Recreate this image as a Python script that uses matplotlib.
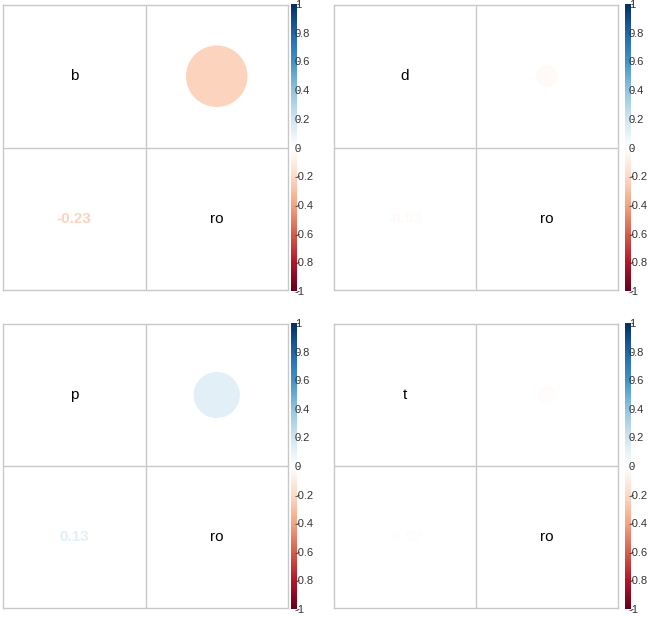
import matplotlib
matplotlib.use("Agg")
import matplotlib.pyplot as plt
from matplotlib.colors import LinearSegmentedColormap, Normalize
from matplotlib.patches import Circle
import numpy as np

plt.rcParams["font.family"] = ["Liberation Sans", "DejaVu Sans"]

# one small correlation matrix per panel: variable vs "ro"
var_names = ["b", "d", "p", "t"]
other_name = "ro"
corr_values = [-0.23, -0.03, 0.13, -0.02]
cbar_ticks = [1, 0.8, 0.6, 0.4, 0.2, 0, -0.2, -0.4, -0.6, -0.8, -1]

# corrplot RdBu palette
cmap = LinearSegmentedColormap.from_list("corrRdBu", [
    "#67001F", "#B2182B", "#D6604D", "#F4A582", "#FDDBC7", "#FFFFFF",
    "#D1E5F0", "#92C5DE", "#4393C6", "#2166AC", "#053061"], N=200)
norm = Normalize(-1, 1)

W, H = 649, 617
fig = plt.figure(figsize=(W / 100, H / 100), dpi=100)

# pixel boxes (left, top, right, bottom) for each panel grid and its colorbar
panel_px = [(3, 5, 288, 290), (334, 5, 618, 290), (3, 324, 288, 608), (334, 324, 618, 608)]
cbar_px = [(291, 4, 297, 291), (625, 4, 631, 291), (291, 323, 297, 609), (625, 323, 631, 609)]


def to_fig(box):
    l, t, r, b = box
    return [l / W, 1 - b / H, (r - l) / W, (b - t) / H]


grid_col = "#c8c8c8"
for i, name in enumerate(var_names):
    r = corr_values[i]
    col = cmap(norm(r))
    ax = fig.add_axes(to_fig(panel_px[i]))
    ax.set_xlim(0, 2)
    ax.set_ylim(0, 2)
    ax.set_xticks([])
    ax.set_yticks([])
    for s in ax.spines.values():
        s.set_color(grid_col)
        s.set_linewidth(1)
    ax.axhline(1, color=grid_col, lw=1)
    ax.axvline(1, color=grid_col, lw=1)

    # diagonal labels
    ax.text(0.5, 1.5, name, ha="center", va="center", fontsize=11, color="black")
    ax.text(1.5, 0.5, other_name, ha="center", va="center", fontsize=11, color="black")
    # upper: circle, area ~ |r|
    ax.add_patch(Circle((1.5, 1.5), 0.45 * np.sqrt(abs(r)), facecolor=col, edgecolor="none"))
    # lower: number
    ax.text(0.5, 0.5, f"{r:.2f}", ha="center", va="center", fontsize=11,
            fontweight="bold", color=col)

    # colorbar
    cax = fig.add_axes(to_fig(cbar_px[i]))
    grad = np.linspace(-1, 1, 200).reshape(-1, 1)
    cax.imshow(grad, cmap=cmap, norm=norm, aspect="auto", origin="lower",
               extent=[0, 1, -1, 1])
    cax.set_xticks([])
    cax.yaxis.tick_right()
    cax.set_yticks(cbar_ticks)
    cax.set_yticklabels([f"{t:g}" for t in cbar_ticks])
    cax.tick_params(axis="y", length=1.5, width=0.6, pad=-3, labelsize=8, colors="#333333")
    for s in cax.spines.values():
        s.set_visible(False)

fig.savefig("out.png", dpi=100, facecolor="white")
plt.close(fig)
